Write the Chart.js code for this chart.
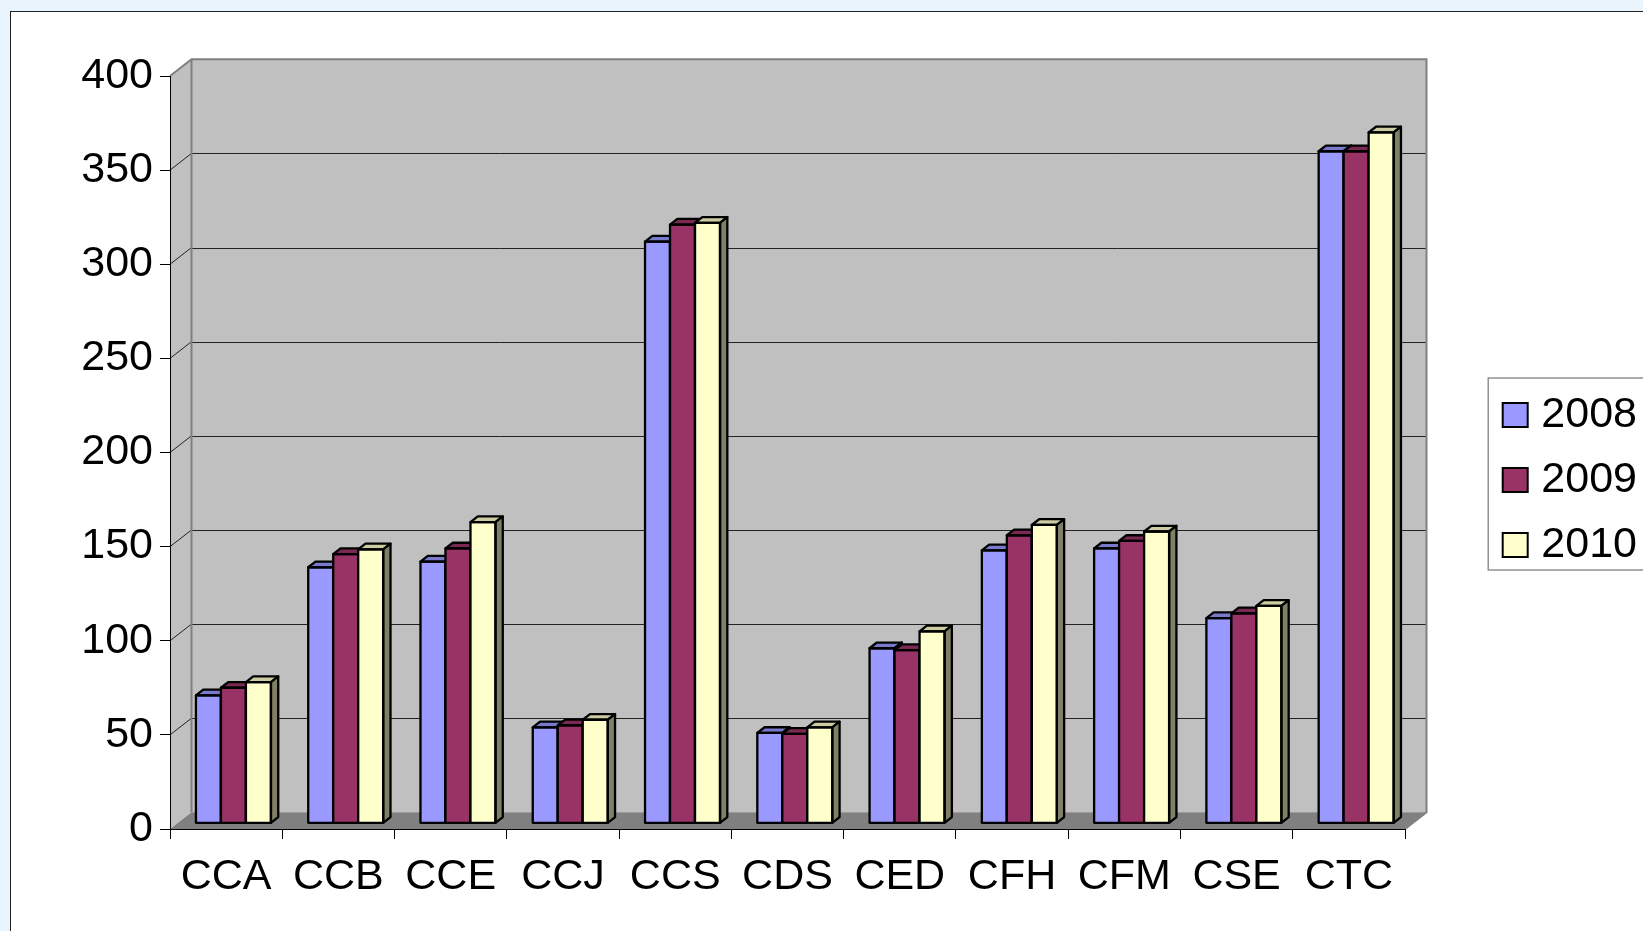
<!DOCTYPE html>
<html>
<head>
<meta charset="utf-8">
<title>Chart</title>
<script src="https://cdn.jsdelivr.net/npm/chart.js@4.4.1/dist/chart.umd.min.js"></script>
<style>
  html, body { margin: 0; padding: 0; overflow: hidden; background: #eaf4fc; }
  #panel { position: absolute; left: 10px; top: 11px; width: 1700px; height: 1000px; background: #fff; border: 1px solid #222; }
  #chart { position: absolute; left: 0; top: 0; }
</style>
</head>
<body>
<div id="panel"></div>
<canvas id="chart" width="1643" height="931"></canvas>
<script>
const categories = ["CCA", "CCB", "CCE", "CCJ", "CCS", "CDS", "CED", "CFH", "CFM", "CSE", "CTC"];
const years = ["2008", "2009", "2010"];
const values2008 = [68, 136, 139, 51, 309, 48, 93, 145, 146, 109, 357];
const values2009 = [72, 143, 146, 52, 318, 47.5, 92, 153, 150, 111.5, 357];
const values2010 = [75, 145.5, 160, 55, 319, 51, 102, 158.5, 155, 115.5, 367];
const yMin = 0, yMax = 400, yStep = 50;

const FONT = "'Liberation Sans', Arial, sans-serif";
const colors = ["#9999ff", "#993366", "#ffffcc"];

// depth of the floor / back wall, and of the bars (bars sit in the middle third)
const WALL_DX = 21.5, WALL_DY = -16.7;
const BAR_DX = 7.3, BAR_DY = -5.7;

const shade = (hex, f) => {
  const n = parseInt(hex.slice(1), 16);
  const r = Math.round(((n >> 16) & 255) * f);
  const g = Math.round(((n >> 8) & 255) * f);
  const b = Math.round((n & 255) * f);
  return `rgb(${r},${g},${b})`;
};

const walls = {
  id: "walls",
  beforeDraw(chart) {
    const { ctx, chartArea: a } = chart;
    const y = chart.scales.y;
    ctx.save();
    ctx.fillStyle = "#c0c0c0";
    // side wall
    ctx.beginPath();
    ctx.moveTo(a.left, a.top);
    ctx.lineTo(a.left + WALL_DX, a.top + WALL_DY);
    ctx.lineTo(a.left + WALL_DX, a.bottom + WALL_DY);
    ctx.lineTo(a.left, a.bottom);
    ctx.closePath();
    ctx.fill();
    // back wall
    ctx.fillRect(a.left + WALL_DX, a.top + WALL_DY, a.right - a.left, a.bottom - a.top);

    // grid lines on both walls
    ctx.strokeStyle = "#222";
    ctx.lineWidth = 1;
    y.ticks.forEach((t) => {
      if (t.value <= yMin || t.value >= yMax) return;
      const py = y.getPixelForValue(t.value);
      const by = Math.round(py + WALL_DY) + 0.5;
      ctx.beginPath();
      ctx.moveTo(a.left + WALL_DX, by);
      ctx.lineTo(a.right + WALL_DX, by);
      ctx.stroke();
      ctx.beginPath();
      ctx.moveTo(a.left, py);
      ctx.lineTo(a.left + WALL_DX, py + WALL_DY);
      ctx.stroke();
    });

    // floor
    ctx.fillStyle = "#808080";
    ctx.beginPath();
    ctx.moveTo(a.left, a.bottom);
    ctx.lineTo(a.right, a.bottom);
    ctx.lineTo(a.right + WALL_DX, a.bottom + WALL_DY);
    ctx.lineTo(a.left + WALL_DX, a.bottom + WALL_DY);
    ctx.closePath();
    ctx.fill();

    // wall edges
    ctx.strokeStyle = "#808080";
    ctx.lineWidth = 2;
    ctx.beginPath();
    ctx.moveTo(a.left, a.top);
    ctx.lineTo(a.left + WALL_DX, a.top + WALL_DY);
    ctx.lineTo(a.right + WALL_DX, a.top + WALL_DY);
    ctx.lineTo(a.right + WALL_DX, a.bottom + WALL_DY);
    ctx.lineTo(a.right, a.bottom);
    ctx.moveTo(a.left + WALL_DX, a.top + WALL_DY);
    ctx.lineTo(a.left + WALL_DX, a.bottom + WALL_DY);
    ctx.stroke();
    ctx.restore();
  },
};

const bars3d = {
  id: "bars3d",
  beforeDatasetsDraw(chart) {
    chart.ctx.save();
    chart.ctx.translate(BAR_DX, BAR_DY);
  },
  afterDatasetsDraw(chart) {
    const ctx = chart.ctx;
    const metas = chart.data.datasets.map((d, i) => chart.getDatasetMeta(i));
    // repaint back to front: category by category, left bar first
    categories.forEach((c, i) => {
      metas.forEach((meta, k) => {
        const bar = meta.data[i];
        const { x, y, base, width } = bar.getProps(["x", "y", "base", "width"], true);
        const l = x - width / 2, r = x + width / 2;
        bar.draw(ctx);
        ctx.save();
        ctx.lineJoin = "round";
        ctx.strokeStyle = "#000";
        ctx.lineWidth = 2.3;
        // top face
        ctx.beginPath();
        ctx.moveTo(l, y);
        ctx.lineTo(l + BAR_DX, y + BAR_DY);
        ctx.lineTo(r + BAR_DX, y + BAR_DY);
        ctx.lineTo(r, y);
        ctx.closePath();
        ctx.fillStyle = shade(colors[k], 0.8);
        ctx.fill();
        ctx.stroke();
        // side face
        ctx.beginPath();
        ctx.moveTo(r, y);
        ctx.lineTo(r + BAR_DX, y + BAR_DY);
        ctx.lineTo(r + BAR_DX, base + BAR_DY);
        ctx.lineTo(r, base);
        ctx.closePath();
        ctx.fillStyle = shade(colors[k], 0.5);
        ctx.fill();
        ctx.stroke();
        // front outline
        ctx.strokeRect(l, y, width, base - y);
        ctx.restore();
      });
    });
    ctx.restore();
  },
};

const legendPlace = {
  id: "legendPlace",
  afterLayout(chart) {
    const lg = chart.legend;
    lg.left = 1480.7;
    lg.top = 371.5;
    lg.right = 1637;
    lg.bottom = 640;
    lg.width = lg.right - lg.left;
    lg.height = lg.bottom - lg.top;
  },
  afterDraw(chart) {
    const { ctx, legend: lg } = chart;
    ctx.save();
    ctx.strokeStyle = "#808080";
    ctx.lineWidth = 1.3;
    ctx.strokeRect(lg.left + 7.5, lg.top + 6.5, 300, 192);
    ctx.restore();
  },
};

const seriesValues = [values2008, values2009, values2010];

new Chart(document.getElementById("chart"), {
  type: "bar",
  data: {
    labels: categories,
    datasets: years.map((yr, k) => ({
      label: yr,
      data: seriesValues[k],
      backgroundColor: colors[k],
      borderColor: "#000",
      borderWidth: 0,
      categoryPercentage: 0.668,
      barPercentage: 1,
      clip: false,
    })),
  },
  options: {
    responsive: false,
    animation: false,
    events: [],
    layout: { padding: { top: 76, right: 238, bottom: 0, left: 0 } },
    plugins: {
      tooltip: { enabled: false },
      legend: {
        position: "chartArea",
        align: "start",
        labels: {
          color: "#000",
          font: { family: FONT, size: 43 },
          boxWidth: 25,
          boxHeight: 24,
          padding: 22,
          textAlign: "right",
          generateLabels(chart) {
            const items = Chart.defaults.plugins.legend.labels.generateLabels(chart);
            items.forEach((it) => {
              it.lineWidth = 2;
              it.strokeStyle = "#000";
            });
            return items;
          },
        },
      },
    },
    scales: {
      x: {
        ticks: { color: "#000", font: { family: FONT, size: 43 }, padding: 12, autoSkip: false, maxRotation: 0 },
        grid: { drawOnChartArea: false, color: "#000", tickLength: 10, offset: true },
        border: { color: "#000", width: 1 },
        afterFit(s) { s.height = 102; },
      },
      y: {
        min: yMin,
        max: yMax,
        ticks: { stepSize: yStep, color: "#000", font: { family: FONT, size: 43 }, padding: 7 },
        grid: { drawOnChartArea: false, color: "#000", tickLength: 10 },
        border: { color: "#000", width: 1 },
        afterFit(s) { s.width = 170; },
      },
    },
  },
  plugins: [walls, bars3d, legendPlace],
});
</script>
</body>
</html>
